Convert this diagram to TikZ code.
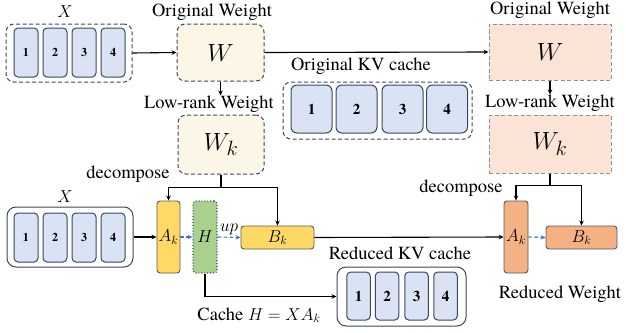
\documentclass[tikz,border=0pt]{standalone}
\usepackage{fontspec}
\setmainfont{texgyretermes}[Extension=.otf, UprightFont=*-regular, BoldFont=*-bold, ItalicFont=*-italic, BoldItalicFont=*-bolditalic]
\usetikzlibrary{arrows.meta}
\definecolor{navy}{HTML}{3A4760}
\definecolor{cellblue}{HTML}{DAE3F3}
\definecolor{cream}{HTML}{FCF6E6}
\definecolor{peach}{HTML}{FBE4D6}
\definecolor{peachline}{HTML}{8E8E9C}
\definecolor{yel}{HTML}{FFD966}
\definecolor{grn}{HTML}{A9D18E}
\definecolor{org}{HTML}{F4B183}
\definecolor{dgray}{HTML}{5A5A5A}
\definecolor{dblue}{HTML}{4472C4}
\begin{document}
\begin{tikzpicture}[x=1pt,y=-1pt,
  lbl/.style={font=\fontsize{18.5}{20}\selectfont, inner sep=0pt},
  cell/.style={draw=navy, fill=cellblue, rounded corners=4pt, line width=1pt, inner sep=0pt, font=\fontsize{12}{13}\selectfont\bfseries},
  grpd/.style={draw=navy, dashed, dash pattern=on 4pt off 2.5pt, rounded corners=8pt, line width=1pt},
  grps/.style={draw=navy, rounded corners=9pt, line width=1pt},
  wbox/.style={draw=navy, fill=cream, dashed, dash pattern=on 4pt off 2.5pt, rounded corners=8pt, line width=1pt, font=\fontsize{30}{31}\selectfont},
  pbox/.style={draw=peachline, fill=peach, dashed, dash pattern=on 4pt off 2.5pt, line width=1pt, font=\fontsize{30}{31}\selectfont},
  mat/.style={rounded corners=3pt, line width=0.9pt, inner sep=0pt, font=\fontsize{17}{18}\selectfont},
  arr/.style={-{Stealth[length=5pt,width=4.5pt]}, line width=1.1pt, black},
  barr/.style={-{Stealth[length=5pt,width=4.5pt]}, line width=1.1pt, dblue, dashed, dash pattern=on 3.5pt off 2.5pt},
  ln/.style={line width=1.1pt, black}]
\useasboundingbox (0,0) rectangle (626,332);

% top-left X
\node[lbl, font=\fontsize{18}{18}\selectfont] (xl1) at (65,12) {$X$};
\node[grpd, minimum width=126pt, minimum height=58pt] (gx) at (69,53) {};
\node[cell, minimum width=24pt, minimum height=49pt] (a1) at (26,52.5) {1};
\node[cell, minimum width=24pt, minimum height=49pt] (a2) at (55,52.5) {2};
\node[cell, minimum width=24pt, minimum height=49pt] (a3) at (84,52.5) {3};
\node[cell, minimum width=24pt, minimum height=49pt] (a4) at (113,52.5) {4};

% W boxes left
\node[lbl] (ow1) at (212,12) {Original Weight};
\node[wbox, minimum width=87pt, minimum height=57pt] (W) at (220.5,52.5) {$W$};
\node[lbl] (lw1) at (209,104) {Low-rank Weight};
\node[wbox, minimum width=86pt, minimum height=59pt] (Wk) at (221,144.5) {$W_k$};

% W boxes right
\node[lbl] (ow2) at (550,10) {Original Weight};
\node[pbox, minimum width=122pt, minimum height=56pt] (W2) at (550,52) {$W$};
\node[lbl] (lw2) at (550,103) {Low-rank Weight};
\node[pbox, minimum width=122pt, minimum height=58pt] (Wk2) at (550,144) {$W_k$};

% original KV cache
\node[lbl] (okv) at (361,66) {Original KV cache};
\node[grpd, minimum width=189pt, minimum height=57pt] (gkv) at (377.5,110.5) {};
\node[cell, minimum width=41pt, minimum height=48pt, rounded corners=6pt, font=\fontsize{15}{16}\selectfont\bfseries] (k1) at (311.5,109) {1};
\node[cell, minimum width=41pt, minimum height=48pt, rounded corners=6pt, font=\fontsize{15}{16}\selectfont\bfseries] (k2) at (356.5,109) {2};
\node[cell, minimum width=41pt, minimum height=48pt, rounded corners=6pt, font=\fontsize{15}{16}\selectfont\bfseries] (k3) at (402.5,109) {3};
\node[cell, minimum width=41pt, minimum height=48pt, rounded corners=6pt, font=\fontsize{15}{16}\selectfont\bfseries] (k4) at (447,109) {4};

% decompose labels
\node[lbl] (dc1) at (128,174) {decompose};
\node[lbl] (dc2) at (461,188) {decompose};

% bottom X
\node[lbl, font=\fontsize{18}{18}\selectfont] (xl2) at (65,197) {$X$};
\node[grps, minimum width=126pt, minimum height=60pt] (gx2) at (70,237) {};
\node[cell, minimum width=24pt, minimum height=49pt] (b1) at (26,237.5) {1};
\node[cell, minimum width=24pt, minimum height=49pt] (b2) at (55,237.5) {2};
\node[cell, minimum width=24pt, minimum height=49pt] (b3) at (84,237.5) {3};
\node[cell, minimum width=24pt, minimum height=49pt] (b4) at (113,237.5) {4};

% low-rank matrices left
\node[mat, draw=dgray, fill=yel, minimum width=23pt, minimum height=72pt] (Ak) at (168.5,237) {$A_k$};
\node[mat, draw=navy, fill=grn, dotted, line width=1.3pt, minimum width=24pt, minimum height=72pt] (H) at (205,237) {$H$};
\node[mat, draw=dgray, fill=yel, minimum width=73pt, minimum height=23pt] (Bk) at (277.5,237.5) {$B_k$};

% low-rank matrices right
\node[mat, draw=dgray, fill=org, minimum width=24pt, minimum height=72pt] (Ak2) at (516,237) {$A_k$};
\node[mat, draw=dgray, fill=org, minimum width=71pt, minimum height=23pt] (Bk2) at (581.5,237.5) {$B_k$};
\node[lbl] (rw) at (560,294) {Reduced Weight};

% reduced KV cache
\node[lbl] (rkvl) at (400,253) {Reduced KV cache};
\node[grps, minimum width=129pt, minimum height=59pt] (rkv) at (401.5,296.5) {};
\node[cell, minimum width=23.5pt, minimum height=48pt, font=\fontsize{15}{16}\selectfont\bfseries] (r1) at (358.5,296) {1};
\node[cell, minimum width=23.5pt, minimum height=48pt, font=\fontsize{15}{16}\selectfont\bfseries] (r2) at (387,296) {2};
\node[cell, minimum width=23.5pt, minimum height=48pt, font=\fontsize{15}{16}\selectfont\bfseries] (r3) at (416.5,296) {3};
\node[cell, minimum width=23.5pt, minimum height=48pt, font=\fontsize{15}{16}\selectfont\bfseries] (r4) at (445.5,296) {4};
\node[lbl] (ch) at (259,315) {Cache $H = XA_k$};

% connectors
\draw[arr] (gx.east) -- (W.west);
\draw[arr] (W.south) -- (W.south |- lw1.north);
\draw[arr] (W.east) -- (W2.west);
\draw[arr] (W2.south) -- (W2.south |- lw2.north);
\draw[arr] (Wk.south) -- ++(0,13) -| (Ak.north);
\draw[arr] (Wk.south) -- ++(0,13) -| (Bk.north);
\draw[arr] (Wk2.south) -- ++(0,12) -| (Ak2.north);
\draw[arr] (Wk2.south) -- ++(0,12) -| (Bk2.north);
\draw[arr] (gx2.east) -- (Ak.west);
\draw[barr] (Ak.east) -- (H.west);
\draw[barr] (H.east) -- node[above, inner sep=2pt, black, font=\fontsize{17}{18}\selectfont] (up) {$up$} (Bk.west);
\draw[arr] (Bk.east) -- (Ak2.west);
\draw[barr] (Ak2.east) -- (Bk2.west);
\draw[arr] (H.south) |- (rkv.west);
\end{tikzpicture}
\end{document}
